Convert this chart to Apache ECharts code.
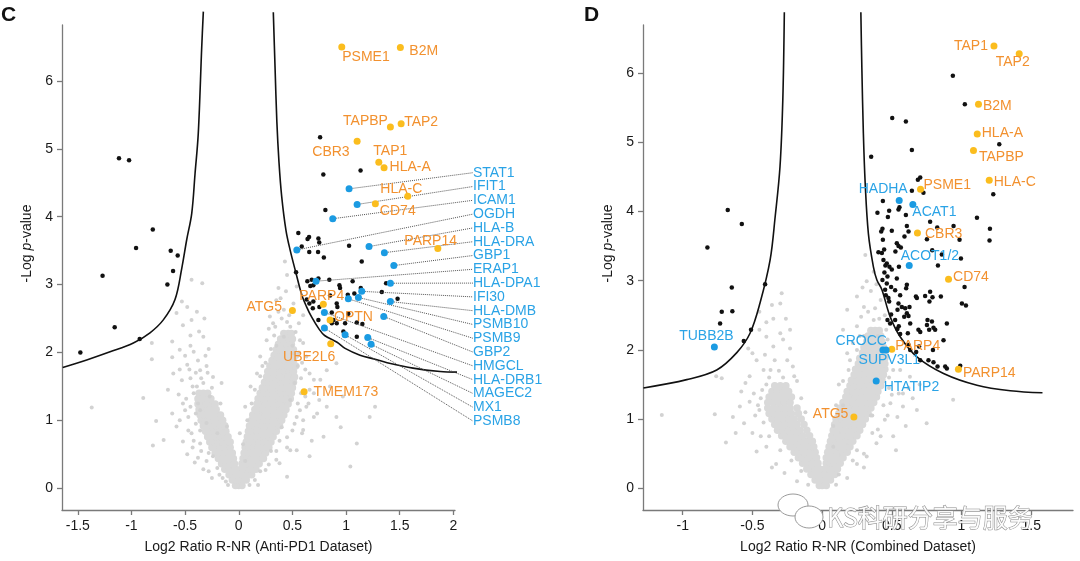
<!DOCTYPE html>
<html><head><meta charset="utf-8">
<script src="https://cdn.jsdelivr.net/npm/echarts@6/dist/echarts.min.js"></script>
<style>html,body{margin:0;padding:0;background:#fff}#c{width:1080px;height:561px}</style>
</head><body><div id="c"></div>
<script>
// ================= DATA =================
const X_TICKS_C = [-1.5, -1, -0.5, 0, 0.5, 1, 1.5, 2];
const X_TICKS_D = [-1, -0.5, 0, 0.5, 1, 1.5];
const Y_TICKS = [0, 1, 2, 3, 4, 5, 6];

// significance threshold curves
const C_curve_left = [[-0.330,7.02],[-0.345,6.50],[-0.377,5.23],[-0.407,4.64],[-0.438,4.05],[-0.485,3.66],[-0.531,3.24],[-0.594,2.78],[-0.703,2.48],[-0.827,2.29],[-0.982,2.14],[-1.199,2.01],[-1.417,1.89],[-1.640,1.78]];
const C_curve_right = [[0.322,7.01],[0.338,6.21],[0.355,5.40],[0.375,4.80],[0.400,4.30],[0.440,3.80],[0.480,3.50],[0.525,3.22],[0.587,2.85],[0.630,2.68],[0.680,2.52],[0.750,2.34],[0.800,2.25],[0.916,2.15],[0.991,2.06],[1.130,1.96],[1.270,1.90],[1.382,1.85],[1.624,1.77],[1.876,1.72],[2.044,1.71]];
const D_curve_left = [[-0.271,6.88],[-0.282,5.61],[-0.302,4.65],[-0.337,3.92],[-0.373,3.30],[-0.445,2.68],[-0.517,2.24],[-0.612,1.96],[-0.756,1.71],[-0.971,1.57],[-1.282,1.45]];
const D_curve_right = [[0.278,6.88],[0.285,6.09],[0.296,5.13],[0.309,4.41],[0.332,3.68],[0.368,3.20],[0.393,3.01],[0.429,2.87],[0.488,2.48],[0.560,2.19],[0.680,1.90],[0.871,1.66],[1.111,1.49],[1.350,1.41],[1.581,1.38]];

// non-significant proteins (grey): dense body of the cloud
const C_grey_dense = [
[0.00,0.04],[0.03,0.04],
[0.00,0.12],[0.04,0.12],[0.07,0.12],
[0.01,0.20],[0.05,0.20],[0.09,0.20],[0.12,0.20],
[0.02,0.28],[0.06,0.28],[0.10,0.28],[0.14,0.28],[0.16,0.28],
[0.03,0.36],[0.07,0.36],[0.11,0.36],[0.15,0.36],[0.19,0.36],
[0.04,0.44],[0.08,0.44],[0.12,0.44],[0.16,0.44],[0.20,0.44],[0.23,0.44],
[0.05,0.52],[0.09,0.52],[0.13,0.52],[0.17,0.52],[0.21,0.52],[0.25,0.52],
[0.06,0.60],[0.10,0.60],[0.14,0.60],[0.18,0.60],[0.22,0.60],[0.26,0.60],[0.28,0.60],
[0.07,0.68],[0.11,0.68],[0.15,0.68],[0.19,0.68],[0.23,0.68],[0.27,0.68],[0.30,0.68],
[0.08,0.76],[0.12,0.76],[0.16,0.76],[0.20,0.76],[0.24,0.76],[0.28,0.76],[0.32,0.76],
[0.09,0.84],[0.13,0.84],[0.17,0.84],[0.21,0.84],[0.25,0.84],[0.29,0.84],[0.33,0.84],[0.35,0.84],
[0.10,0.92],[0.14,0.92],[0.18,0.92],[0.22,0.92],[0.26,0.92],[0.30,0.92],[0.34,0.92],[0.38,0.92],
[0.12,1.00],[0.16,1.00],[0.20,1.00],[0.24,1.00],[0.28,1.00],[0.32,1.00],[0.36,1.00],[0.40,1.00],
[0.13,1.08],[0.17,1.08],[0.21,1.08],[0.25,1.08],[0.29,1.08],[0.33,1.08],[0.37,1.08],[0.42,1.08],
[0.15,1.16],[0.19,1.16],[0.23,1.16],[0.27,1.16],[0.31,1.16],[0.35,1.16],[0.39,1.16],[0.44,1.16],
[0.17,1.24],[0.21,1.24],[0.25,1.24],[0.29,1.24],[0.33,1.24],[0.37,1.24],[0.41,1.24],[0.46,1.24],
[0.18,1.32],[0.22,1.32],[0.26,1.32],[0.30,1.32],[0.34,1.32],[0.38,1.32],[0.42,1.32],[0.46,1.32],[0.48,1.32],
[0.20,1.40],[0.24,1.40],[0.28,1.40],[0.32,1.40],[0.36,1.40],[0.40,1.40],[0.44,1.40],[0.49,1.40],
[0.22,1.48],[0.26,1.48],[0.30,1.48],[0.34,1.48],[0.38,1.48],[0.42,1.48],[0.46,1.48],[0.50,1.48],
[0.24,1.56],[0.28,1.56],[0.32,1.56],[0.36,1.56],[0.40,1.56],[0.44,1.56],[0.48,1.56],[0.51,1.56],
[0.26,1.64],[0.30,1.64],[0.34,1.64],[0.38,1.64],[0.42,1.64],[0.46,1.64],[0.50,1.64],[0.52,1.64],
[0.27,1.72],[0.31,1.72],[0.35,1.72],[0.39,1.72],[0.43,1.72],[0.47,1.72],[0.51,1.72],
[0.29,1.80],[0.33,1.80],[0.37,1.80],[0.41,1.80],[0.45,1.80],[0.49,1.80],[0.53,1.80],
[0.31,1.88],[0.35,1.88],[0.39,1.88],[0.43,1.88],[0.47,1.88],[0.51,1.88],
[0.33,1.96],[0.37,1.96],[0.41,1.96],[0.45,1.96],[0.49,1.96],[0.53,1.96],
[0.35,2.04],[0.39,2.04],[0.43,2.04],[0.47,2.04],[0.51,2.04],
[0.37,2.12],[0.41,2.12],[0.45,2.12],[0.49,2.12],
[0.39,2.20],[0.43,2.20],[0.47,2.20],[0.50,2.20],
[0.42,2.28],[0.46,2.28],[0.49,2.28],
[-0.03,0.04],
[-0.06,0.12],[-0.02,0.12],
[-0.09,0.20],[-0.05,0.20],[-0.02,0.20],
[-0.13,0.28],[-0.09,0.28],[-0.05,0.28],[-0.03,0.28],
[-0.16,0.36],[-0.12,0.36],[-0.08,0.36],[-0.04,0.36],
[-0.19,0.44],[-0.15,0.44],[-0.11,0.44],[-0.07,0.44],[-0.05,0.44],
[-0.22,0.52],[-0.18,0.52],[-0.14,0.52],[-0.10,0.52],[-0.06,0.52],
[-0.25,0.60],[-0.21,0.60],[-0.17,0.60],[-0.13,0.60],[-0.08,0.60],
[-0.27,0.68],[-0.23,0.68],[-0.19,0.68],[-0.15,0.68],[-0.11,0.68],[-0.08,0.68],
[-0.29,0.76],[-0.25,0.76],[-0.21,0.76],[-0.17,0.76],[-0.13,0.76],[-0.10,0.76],
[-0.31,0.84],[-0.27,0.84],[-0.23,0.84],[-0.19,0.84],[-0.15,0.84],[-0.12,0.84],
[-0.33,0.92],[-0.29,0.92],[-0.25,0.92],[-0.21,0.92],[-0.17,0.92],[-0.13,0.92],
[-0.35,1.00],[-0.31,1.00],[-0.27,1.00],[-0.23,1.00],[-0.19,1.00],[-0.15,1.00],
[-0.36,1.08],[-0.32,1.08],[-0.28,1.08],[-0.24,1.08],[-0.20,1.08],[-0.17,1.08],
[-0.37,1.16],[-0.33,1.16],[-0.29,1.16],[-0.25,1.16],[-0.21,1.16],
[-0.38,1.24],[-0.34,1.24],[-0.30,1.24],[-0.26,1.24],[-0.22,1.24],
[-0.38,1.32],[-0.34,1.32],[-0.30,1.32],[-0.26,1.32],
[-0.37,1.40],[-0.33,1.40],[-0.29,1.40]
];
// non-significant proteins (grey): scattered points around the body
const C_grey_sparse = [
[-0.44,3.07],[-0.34,3.02],[-0.53,2.75],[-0.48,2.67],[-0.58,2.58],[-0.44,2.48],[-0.37,2.31],[-0.33,2.23],[-0.62,2.16],[-0.81,2.14],
[-0.55,2.04],[-0.42,2.01],[-0.28,2.05],[-0.62,1.93],[-0.81,1.90],[-0.48,1.82],[-0.36,1.74],[-0.61,1.69],[-0.24,1.64],[-0.53,1.59],
[-0.16,1.55],[-0.39,1.50],[-0.66,1.45],[-0.89,1.33],[-1.37,1.19],[-0.52,1.25],[-0.62,1.10],[-0.77,0.99],[-0.58,0.91],[-0.70,0.71],
[-0.80,0.63],[-0.52,0.69],[-0.36,0.66],[-0.44,0.81],[-0.24,0.47],[-0.36,1.15],[-0.27,1.35],[-0.17,1.25],[-0.30,0.96],[-0.11,0.91],
[-0.20,0.81],[-0.42,1.40],[-0.45,1.62],[-0.30,1.80],[-0.50,1.95],[-0.40,1.70],[-0.47,1.05],[-0.40,0.95],[-0.35,0.55],[-0.30,0.40],
[-0.20,0.30],[-0.15,0.15],[-0.10,0.05],[-0.45,2.25],[-0.25,1.48],[-0.33,1.55],[-0.38,1.25],[-0.49,1.32],[-0.56,1.38],[-0.43,0.60],
[-0.28,0.25],[-0.38,0.45],[-0.42,0.70],[-0.47,0.85],[-0.40,1.10],[-0.45,1.20],[-0.50,1.15],[-0.43,1.50],[-0.35,1.62],[-0.29,1.70],
[-0.46,1.75],[-0.55,1.75],[-0.38,1.88],[-0.31,1.95],[-0.45,2.10],[-0.52,2.40],[-0.39,2.60],[-0.32,2.50],[-0.25,0.15],[-0.12,0.10],
[-0.18,0.20],[-0.33,0.28],[-0.41,0.38],[-0.28,0.52],[-0.36,0.85],[-0.48,0.50],[-0.55,1.00],
[0.43,3.34],[0.37,2.95],[0.45,3.14],[0.54,2.97],[0.35,2.77],[0.42,2.63],[0.29,2.53],[0.51,2.72],[0.34,2.38],[0.56,2.43],
[0.26,2.18],[0.60,2.14],[0.20,1.94],[0.63,1.94],[0.17,1.69],[0.66,1.69],[0.11,1.50],[0.70,1.40],[0.06,1.20],[0.73,1.10],
[0.01,0.81],[0.59,0.81],[0.54,1.05],[0.48,0.56],[0.35,0.42],[0.25,0.27],[0.48,1.30],[0.63,1.20],[1.22,1.05],[1.27,1.20],
[0.97,1.35],[1.10,0.66],[0.91,1.05],[0.82,1.74],[0.91,1.84],[0.76,1.60],[0.66,1.45],[0.82,1.20],[0.70,1.05],[0.60,0.86],
[0.79,0.76],[0.54,0.56],[0.66,0.47],[0.38,0.37],[0.45,0.17],[0.51,1.99],[0.42,2.23],[0.48,2.38],[0.32,2.43],[0.57,2.18],
[1.04,0.32],[0.52,1.55],[0.55,1.80],[0.58,1.62],[0.53,2.30],[0.47,2.55],[0.39,2.80],[0.44,2.90],[0.30,2.05],[0.25,1.85],
[0.40,0.90],[0.38,0.70],[0.30,0.55],[0.20,0.25],[0.15,0.12],[0.45,0.75],[0.52,0.95],[0.57,1.15],[0.62,1.35],[0.35,2.10],
[0.60,2.55],[0.40,2.50],[0.50,2.10],[0.58,1.40],[0.55,1.25],[0.60,1.00],[0.65,1.25],[0.56,2.00],[0.59,1.85],[0.62,1.75],
[0.45,2.45],[0.37,2.60],[0.50,2.60],[0.33,2.25],[0.28,2.35],[0.50,0.85],[0.45,0.60],[0.35,0.55],[0.28,0.35],[0.18,0.05],
[0.10,0.05],[0.06,0.40],[0.04,0.65],[0.08,1.00],[0.12,1.25],[0.15,1.45],[0.20,1.65],[0.22,1.80],[0.70,1.60],[0.75,1.30],
[0.85,1.50],[0.95,0.90],[0.68,0.70]
];
const D_grey_dense = [
[0.00,0.04],[0.03,0.04],
[0.00,0.12],[0.03,0.12],[0.06,0.12],
[0.01,0.20],[0.04,0.20],[0.07,0.20],[0.09,0.20],
[0.02,0.28],[0.05,0.28],[0.08,0.28],[0.11,0.28],
[0.03,0.36],[0.06,0.36],[0.09,0.36],[0.13,0.36],
[0.03,0.44],[0.07,0.44],[0.10,0.44],[0.13,0.44],[0.15,0.44],
[0.04,0.52],[0.08,0.52],[0.11,0.52],[0.15,0.52],[0.18,0.52],
[0.05,0.60],[0.09,0.60],[0.12,0.60],[0.16,0.60],[0.20,0.60],
[0.06,0.68],[0.10,0.68],[0.13,0.68],[0.17,0.68],[0.20,0.68],[0.22,0.68],
[0.07,0.76],[0.11,0.76],[0.14,0.76],[0.18,0.76],[0.21,0.76],[0.25,0.76],
[0.08,0.84],[0.12,0.84],[0.15,0.84],[0.19,0.84],[0.22,0.84],[0.26,0.84],[0.27,0.84],
[0.09,0.92],[0.13,0.92],[0.16,0.92],[0.20,0.92],[0.23,0.92],[0.27,0.92],[0.29,0.92],
[0.10,1.00],[0.14,1.00],[0.17,1.00],[0.21,1.00],[0.24,1.00],[0.28,1.00],[0.31,1.00],
[0.12,1.08],[0.15,1.08],[0.19,1.08],[0.22,1.08],[0.26,1.08],[0.29,1.08],[0.33,1.08],
[0.13,1.16],[0.17,1.16],[0.20,1.16],[0.24,1.16],[0.27,1.16],[0.31,1.16],[0.35,1.16],
[0.15,1.24],[0.18,1.24],[0.22,1.24],[0.25,1.24],[0.29,1.24],[0.33,1.24],[0.37,1.24],
[0.17,1.32],[0.20,1.32],[0.24,1.32],[0.27,1.32],[0.31,1.32],[0.35,1.32],[0.39,1.32],
[0.18,1.40],[0.22,1.40],[0.25,1.40],[0.29,1.40],[0.32,1.40],[0.36,1.40],[0.40,1.40],
[0.20,1.48],[0.23,1.48],[0.27,1.48],[0.30,1.48],[0.34,1.48],[0.38,1.48],[0.42,1.48],
[0.21,1.56],[0.25,1.56],[0.28,1.56],[0.32,1.56],[0.36,1.56],[0.40,1.56],[0.43,1.56],
[0.23,1.64],[0.26,1.64],[0.30,1.64],[0.34,1.64],[0.37,1.64],[0.41,1.64],[0.44,1.64],
[0.24,1.72],[0.28,1.72],[0.31,1.72],[0.35,1.72],[0.38,1.72],[0.42,1.72],[0.45,1.72],
[0.26,1.80],[0.29,1.80],[0.33,1.80],[0.36,1.80],[0.40,1.80],[0.43,1.80],[0.45,1.80],
[0.27,1.88],[0.31,1.88],[0.34,1.88],[0.38,1.88],[0.41,1.88],[0.45,1.88],
[0.29,1.96],[0.32,1.96],[0.36,1.96],[0.39,1.96],[0.42,1.96],[0.45,1.96],
[0.30,2.04],[0.34,2.04],[0.37,2.04],[0.41,2.04],[0.44,2.04],
[0.32,2.12],[0.35,2.12],[0.39,2.12],[0.43,2.12],
[0.33,2.20],[0.37,2.20],[0.40,2.20],[0.42,2.20],
[0.35,2.28],[0.38,2.28],[0.41,2.28],
[-0.02,0.04],
[-0.05,0.12],[-0.02,0.12],
[-0.08,0.20],[-0.05,0.20],[-0.02,0.20],
[-0.11,0.28],[-0.08,0.28],[-0.05,0.28],[-0.02,0.28],
[-0.14,0.36],[-0.11,0.36],[-0.07,0.36],[-0.03,0.36],
[-0.17,0.44],[-0.14,0.44],[-0.10,0.44],[-0.07,0.44],[-0.04,0.44],
[-0.20,0.52],[-0.17,0.52],[-0.13,0.52],[-0.09,0.52],[-0.05,0.52],
[-0.23,0.60],[-0.20,0.60],[-0.16,0.60],[-0.12,0.60],[-0.09,0.60],[-0.06,0.60],
[-0.26,0.68],[-0.23,0.68],[-0.19,0.68],[-0.15,0.68],[-0.11,0.68],[-0.07,0.68],
[-0.29,0.76],[-0.26,0.76],[-0.22,0.76],[-0.18,0.76],[-0.14,0.76],[-0.09,0.76],
[-0.32,0.84],[-0.28,0.84],[-0.24,0.84],[-0.20,0.84],[-0.16,0.84],[-0.11,0.84],
[-0.34,0.92],[-0.30,0.92],[-0.26,0.92],[-0.22,0.92],[-0.18,0.92],[-0.13,0.92],
[-0.36,1.00],[-0.32,1.00],[-0.28,1.00],[-0.24,1.00],[-0.20,1.00],[-0.15,1.00],
[-0.38,1.08],[-0.34,1.08],[-0.30,1.08],[-0.26,1.08],[-0.22,1.08],[-0.17,1.08],
[-0.39,1.16],[-0.35,1.16],[-0.31,1.16],[-0.27,1.16],[-0.23,1.16],[-0.18,1.16],
[-0.39,1.24],[-0.35,1.24],[-0.31,1.24],[-0.27,1.24],[-0.23,1.24],
[-0.38,1.32],[-0.34,1.32],[-0.30,1.32],[-0.26,1.32],[-0.22,1.32],
[-0.36,1.40],[-0.32,1.40],[-0.28,1.40],[-0.24,1.40],
[-0.34,1.48],[-0.30,1.48],[-0.26,1.48]
];
const D_grey_sparse = [
[-0.30,2.67],[-0.36,2.65],[-0.29,2.82],[-0.23,2.29],[-0.30,2.24],[-0.45,2.29],[-0.40,2.19],[-0.53,2.02],[-0.41,1.93],[-0.47,1.85],
[-0.34,1.85],[-0.23,2.02],[-0.21,1.76],[-0.42,1.71],[-0.55,1.52],[-0.49,1.37],[-0.59,1.18],[-0.64,1.03],[-0.56,0.94],[-0.69,0.66],
[-0.47,0.53],[-0.76,1.62],[-0.72,1.59],[-0.77,1.07],[-1.15,1.06],[-0.45,1.13],[-0.37,1.71],[-0.40,1.50],[-0.44,1.30],[-0.42,0.95],
[-0.38,0.75],[-0.30,0.55],[-0.22,0.40],[-0.48,1.05],[-0.28,1.60],[-0.18,1.55],[-0.15,1.30],[-0.12,1.10],[-0.26,2.45],[-0.35,2.45],
[-0.50,0.80],[-0.33,0.35],[-0.15,0.25],[-0.52,1.62],[-0.44,0.75],[-0.40,0.60],[-0.46,1.20],[-0.43,1.42],[-0.38,1.60],[-0.31,1.70],
[-0.25,1.85],[-0.35,2.05],[-0.28,2.15],[-0.20,1.62],[-0.52,1.25],[-0.58,1.40],[-0.62,0.80],[-0.36,0.30],[-0.27,0.22],[-0.18,0.10],
[-0.10,0.05],[-0.40,2.40],[-0.45,2.55],[-0.50,1.95],
[0.75,0.94],[0.68,1.13],[0.94,1.28],[0.58,1.37],[0.63,1.61],[0.56,1.71],[0.51,0.75],[0.39,0.65],[0.32,0.46],[0.49,1.23],
[0.54,1.03],[0.45,0.99],[0.31,3.37],[0.37,3.13],[0.32,2.99],[0.25,2.77],[0.18,2.58],[0.30,2.62],[0.42,2.72],[0.15,2.29],
[0.25,2.34],[0.37,2.43],[0.46,2.29],[0.18,1.95],[0.19,1.71],[0.51,1.71],[0.55,1.37],[0.58,1.18],[0.47,1.90],[0.44,2.05],
[0.45,2.50],[0.28,2.48],[0.35,2.85],[0.22,2.10],[0.48,1.45],[0.44,1.20],[0.40,0.85],[0.35,1.05],[0.30,0.30],[0.22,0.40],
[0.12,0.20],[0.25,0.55],[0.62,1.45],[0.40,2.20],[0.30,2.20],[0.38,2.60],[0.36,1.05],[0.12,1.50],[0.15,1.20],[0.08,0.90],
[0.48,1.60],[0.50,1.35],[0.47,1.05],[0.42,0.75],[0.36,0.80],[0.30,0.50],[0.25,0.35],[0.18,0.15],[0.10,0.05],[0.08,0.60],
[0.10,1.20],[0.15,1.55],[0.20,1.85],[0.25,2.00],[0.27,2.20],[0.48,2.00],[0.47,2.15],[0.41,2.45],[0.33,2.55],[0.29,2.90],
[0.39,2.95],[0.60,0.90],[0.65,1.30],[0.70,1.50],[0.53,0.55]
];

// significant, unlabelled (black)
const C_black = [
[-1.116,4.86],[-1.022,4.83],[-0.801,3.81],[-0.957,3.54],[-0.634,3.50],[-0.569,3.43],[-1.269,3.13],[-0.612,3.20],[-0.665,3.00],[-1.156,2.37],[-0.923,2.20],[-1.476,2.00],
[0.758,5.17],[0.788,4.62],[1.135,4.68],[0.807,4.10],[0.555,3.76],[0.641,3.67],[0.655,3.70],[0.587,3.56],[0.742,3.68],[0.750,3.62],
[0.657,3.48],[0.739,3.48],[0.793,3.40],[1.028,3.57],[1.146,3.34],[0.534,3.18],[0.639,3.05],[0.680,3.07],[0.742,3.09],[0.844,3.07],
[0.695,2.99],[0.667,2.98],[0.938,2.99],[0.944,2.95],[1.061,3.05],[1.137,2.95],[1.373,3.02],[1.333,2.89],[1.480,2.79],[0.851,2.84],
[1.016,2.85],[1.077,2.87],[0.913,2.72],[0.919,2.67],[0.690,2.65],[0.867,2.59],[0.882,2.48],[0.913,2.43],[0.742,2.48],[1.021,2.57],
[1.152,2.42],[1.100,2.44],[0.975,2.31],[1.100,2.23],[0.658,2.72],[0.634,2.78],[0.751,2.67],[0.695,2.75],[0.991,2.43],[0.867,2.43]
];
const D_black = [
[-0.677,4.02],[-0.576,3.82],[-0.823,3.48],[-0.648,2.90],[-0.409,2.95],[-0.720,2.55],[-0.644,2.56],[-0.732,2.38],[-0.510,2.29],[-0.562,2.13],
[0.938,5.96],[1.024,5.55],[0.503,5.35],[0.601,5.30],[1.271,4.97],[0.644,4.89],[0.352,4.79],[0.687,4.46],[0.704,4.49],[1.228,4.25],
[0.644,4.30],[0.727,4.27],[0.436,4.15],[0.397,3.98],[0.481,4.01],[0.548,4.03],[0.555,4.06],[1.111,3.91],[0.472,3.92],[0.601,3.95],
[0.775,3.85],[0.943,3.79],[0.826,3.77],[1.204,3.75],[0.433,3.75],[0.424,3.71],[0.500,3.72],[0.608,3.79],[0.620,3.71],[0.591,3.64],
[0.752,3.60],[0.986,3.59],[1.201,3.58],[0.536,3.54],[0.548,3.50],[0.565,3.48],[0.436,3.59],[0.404,3.41],[0.429,3.40],[0.445,3.45],
[0.526,3.42],[0.790,3.44],[0.859,3.38],[0.996,3.32],[0.440,3.30],[0.464,3.25],[0.483,3.20],[0.454,3.22],[0.500,3.16],[0.551,3.20],
[0.831,3.22],[0.536,3.03],[0.447,3.12],[0.469,3.06],[0.433,3.01],[0.464,2.96],[0.452,2.87],[0.495,2.91],[0.524,2.86],[0.608,2.94],
[0.603,2.89],[0.673,2.77],[0.739,2.78],[0.775,2.84],[0.792,2.76],[1.003,2.67],[1.032,2.64],[1.022,2.91],[0.457,2.79],[0.476,2.75],
[0.572,2.62],[0.596,2.60],[0.495,2.51],[0.469,2.43],[0.488,2.38],[0.608,2.53],[0.620,2.49],[0.756,2.43],[0.788,2.41],[0.752,2.36],
[0.704,2.26],[0.768,2.29],[0.799,2.32],[0.540,2.30],[0.696,2.05],[0.795,2.00],[0.763,1.85],[0.799,1.82],[0.828,1.76],[0.883,1.76],
[0.991,1.77],[0.481,2.70],[0.541,2.58],[0.548,2.67],[0.560,2.79],[0.680,2.75],[0.770,2.70],[0.852,2.77],[0.811,2.29],[0.691,2.29],
[0.632,2.38],[0.615,2.24],[0.589,2.48],[0.627,2.62],[0.895,2.38],[0.871,2.14],[0.675,1.97],[0.704,1.85],[0.895,1.73],[0.620,2.07],
[0.550,2.34],[0.560,2.23],[0.524,2.43],[0.632,2.00]
];

// labelled proteins [name, log2 ratio, -log p]
const C_orange = [['PSME1',0.960,6.50],['B2M',1.506,6.49],['TAPBP',1.413,5.32],['TAP2',1.513,5.37],['CBR3',1.103,5.11],['TAP1',1.305,4.80],['HLA-A',1.354,4.72],['HLA-C',1.575,4.30],['CD74',1.273,4.19],['PARP14',1.855,3.53],['PARP4',0.788,2.71],['OPTN',0.851,2.48],['ATG5',0.500,2.62],['UBE2L6',0.857,2.13],['TMEM173',0.609,1.42]];
const C_blue = [['STAT1',1.028,4.41],['IFIT1',1.103,4.18],['ICAM1',0.876,3.97],['OGDH',0.541,3.51],['HLA-B',1.214,3.56],['HLA-DRA',1.357,3.47],['GBP1',1.445,3.28],['ERAP1',0.720,3.05],['HLA-DPA1',1.413,3.02],['IFI30',1.146,2.90],['HLA-DMB',1.413,2.75],['PSMB10',1.115,2.81],['PSMB9',1.021,2.79],['GBP2',1.351,2.53],['HMGCL',0.798,2.59],['HLA-DRB1',1.202,2.22],['MAGEC2',1.233,2.12],['MX1',0.991,2.26],['PSMB8',0.798,2.36]];
const D_orange = [['TAP1',1.233,6.39],['TAP2',1.414,6.28],['B2M',1.122,5.55],['HLA-A',1.113,5.12],['TAPBP',1.086,4.88],['HLA-C',1.199,4.45],['PSME1',0.706,4.32],['CBR3',0.684,3.69],['CD74',0.907,3.02],['PARP4',0.500,2.01],['PARP14',0.978,1.72],['ATG5',0.228,1.03]];
const D_blue = [['HADHA',0.553,4.16],['ACAT1',0.651,4.10],['ACOT1/2',0.625,3.22],['CROCC',0.436,2.00],['SUPV3L1',0.459,2.00],['HTATIP2',0.388,1.55],['TUBB2B',-0.773,2.04]];

// ================= LAYOUT / STYLE =================
const FONT = '"Liberation Sans", Arial, Helvetica, sans-serif';
const ORANGE_DOT = '#fbbd1e', ORANGE_TXT = '#f2912f';
const BLUE_DOT = '#1b9be2', BLUE_TXT = '#2aa3e6';
const GREY = '#d9d9d9', GREY2 = '#d2d2d2', AXIS = '#7a7a7a', TXT = '#1a1a1a';
// label placement: [position, dx, dy]
const LABEL_POS = {
 C: {'PSME1':['right',-8,10],'B2M':['right',0.5,3.7],'TAPBP':['left',6,-6],'TAP2':['right',-5.5,-1.5],'CBR3':['left',1,10.7],
     'TAP1':['right',-14,-11],'HLA-A':['right',-3,-0.7],'HLA-C':['right',-36,-7],'CD74':['right',-4,7],'PARP14':['right',-42,-7],
     'PARP4':['right',-32.5,-8],'OPTN':['right',-4.5,-2.5],'ATG5':['left',-2,-3],'UBE2L6':['left',13,13],'TMEM173':['right',1,0]},
 D: {'TAP1':['left',2.5,0],'TAP2':['right',-32,8.5],'B2M':['right',-4,1.7],'HLA-A':['right',-4,-1],'TAPBP':['right',-3,7],
     'HLA-C':['right',-4,1.5],'PSME1':['right',-5.5,-4.5],'CBR3':['right',-1,1],'CD74':['right',-4,-2],'PARP4':['right',-5,-3.5],
     'PARP14':['right',-4,3.5],'ATG5':['left',3,-2.5],'HADHA':['left',17,-11],'ACAT1':['right',-9,8],'ACOT1/2':['right',-17,-9],
     'CROCC':['left',12.5,-8.3],'SUPV3L1':['right',-36,10],'HTATIP2':['right',-1,6],'TUBB2B':['top',-8,5]}
};
const COL_X = 473, COL_Y0 = 172.7, COL_STEP = 13.8;

function items(arr, panel) {
  return arr.map(function (d) {
    const p = LABEL_POS[panel] && LABEL_POS[panel][d[0]];
    const it = {name: d[0], value: [d[1], d[2]]};
    if (p) it.label = {position: p[0], offset: [p[1], p[2]]};
    return it;
  });
}

function xAxis(grid, min, max, ticks, name) {
  return {gridIndex: grid, type: 'value', min: min, max: max,
    axisLine: {show: true, onZero: false, lineStyle: {color: AXIS, width: 1.3}},
    axisTick: {show: true, length: 5, customValues: ticks, lineStyle: {color: AXIS, width: 1.3}},
    axisLabel: {customValues: ticks, fontSize: 14, color: TXT, margin: 9, fontFamily: FONT},
    splitLine: {show: false},
    name: name, nameLocation: 'middle', nameGap: 30,
    nameTextStyle: {fontSize: 14, color: TXT, fontFamily: FONT}};
}
function yAxis(grid, min, max) {
  return {gridIndex: grid, type: 'value', min: min, max: max,
    axisLine: {show: true, onZero: false, lineStyle: {color: AXIS, width: 1.3}},
    axisTick: {show: true, length: 5, customValues: Y_TICKS, lineStyle: {color: AXIS, width: 1.3}},
    axisLabel: {customValues: Y_TICKS, fontSize: 14, color: TXT, margin: 9, fontFamily: FONT},
    splitLine: {show: false},
    name: '-Log {i|p}-value', nameLocation: 'middle', nameGap: 28,
    nameTextStyle: {fontSize: 14, color: TXT, fontFamily: FONT, padding: [0, 0, 0, 48],
      rich: {i: {fontStyle: 'italic', fontSize: 14, color: TXT, fontFamily: FONT}}}};
}
function grey(idx, data, size, color) {
  return {type: 'scatter', xAxisIndex: idx, yAxisIndex: idx, data: data, symbolSize: size,
    itemStyle: {color: color, opacity: 1}, silent: true, z: 1};
}
function curve(idx, data) {
  return {type: 'line', xAxisIndex: idx, yAxisIndex: idx, data: data, symbol: 'none', smooth: 0.35,
    clip: false, lineStyle: {color: '#111', width: 1.6}, silent: true, z: 3};
}
function black(idx, data) {
  return {type: 'scatter', xAxisIndex: idx, yAxisIndex: idx, data: data, symbolSize: 4.5,
    itemStyle: {color: '#111', opacity: 1}, silent: true, z: 4};
}
function hi(idx, data, dot, txt) {
  return {type: 'scatter', xAxisIndex: idx, yAxisIndex: idx, data: data, symbolSize: 7,
    itemStyle: {color: dot, opacity: 1}, silent: true, z: 5,
    label: {show: true, formatter: '{b}', position: 'right', distance: 5, color: txt, fontSize: 14, fontFamily: FONT}};
}

const blueC = hi(0, items(C_blue, 'C'), BLUE_DOT, BLUE_TXT);
blueC.labelLayout = function (p) {
  return {x: COL_X, y: COL_Y0 + p.dataIndex * COL_STEP, align: 'left', verticalAlign: 'middle'};
};
blueC.labelLine = {show: true, length2: 0, lineStyle: {color: '#555', width: 1, type: 'dotted'}};

const option = {
  animation: false,
  backgroundColor: '#fff',
  grid: [{left: 62, top: 25, width: 393, height: 485}, {left: 643, top: 25, width: 430, height: 485}],
  xAxis: [xAxis(0, -1.647, 2.015, X_TICKS_C, 'Log2 Ratio R-NR (Anti-PD1 Dataset)'),
          xAxis(1, -1.285, 1.80, X_TICKS_D, 'Log2 Ratio R-NR (Combined Dataset)')],
  yAxis: [yAxis(0, -0.32, 6.823), yAxis(1, -0.314, 6.695)],
  series: [
    grey(0, C_grey_dense, 7.5, GREY), grey(0, C_grey_sparse, 4, GREY2),
    grey(1, D_grey_dense, 7.5, GREY), grey(1, D_grey_sparse, 4, GREY2),
    curve(0, C_curve_left), curve(0, C_curve_right), curve(1, D_curve_left), curve(1, D_curve_right),
    black(0, C_black), black(1, D_black),
    hi(0, items(C_orange, 'C'), ORANGE_DOT, ORANGE_TXT), blueC,
    hi(1, items(D_orange, 'D'), ORANGE_DOT, ORANGE_TXT), hi(1, items(D_blue, 'D'), BLUE_DOT, BLUE_TXT)
  ],
  graphic: [
    {type: 'text', left: 1, top: 5, style: {text: 'C', font: 'bold 21px ' + FONT, fill: '#111'}},
    {type: 'text', left: 584, top: 5, style: {text: 'D', font: 'bold 21px ' + FONT, fill: '#111'}},
    {type: 'ellipse', shape: {cx: 793, cy: 505, rx: 15, ry: 11}, style: {fill: '#fff', stroke: '#9a9a9a', lineWidth: 1}, z: 100},
    {type: 'ellipse', shape: {cx: 809, cy: 517, rx: 14, ry: 11}, style: {fill: '#fff', stroke: '#9a9a9a', lineWidth: 1}, z: 101},
    {type: 'text', x: 827, y: 517, style: {text: 'KS科研分享与服务', font: '25px "Noto Sans CJK SC", sans-serif',
      fill: 'rgba(255,255,255,0.9)', stroke: '#8a8a8a', lineWidth: 1, textVerticalAlign: 'middle'}, z: 102}
  ]
};
const chart = echarts.init(document.getElementById('c'), null, {renderer: 'canvas'});
chart.setOption(option);
</script>
</body></html>
